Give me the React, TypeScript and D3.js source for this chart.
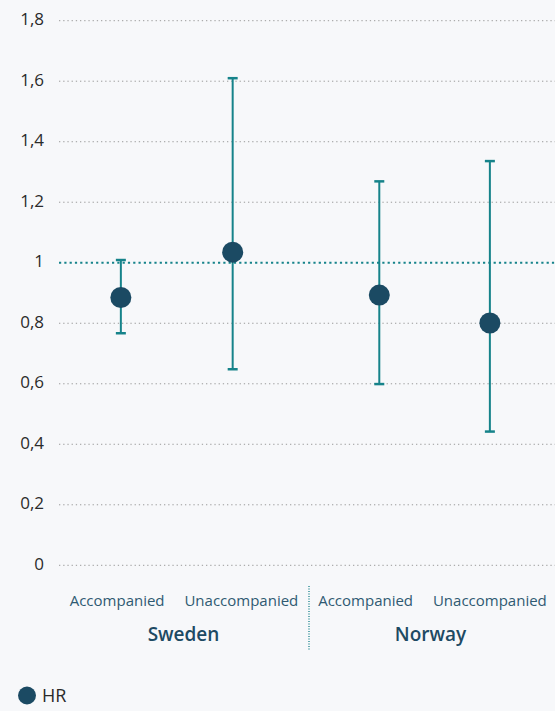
import React from "react";
import * as d3 from "d3";

const subCategories = ["Accompanied", "Unaccompanied", "Accompanied", "Unaccompanied"];
const groups = ["Sweden", "Norway"];
const pointX = [0.03, 0.93, 2.11, 3.0];
const hr = [0.885, 1.035, 0.893, 0.801];
const ciLow = [0.767, 0.648, 0.599, 0.442];
const ciHigh = [1.009, 1.61, 1.269, 1.336];
const yTicks = [0, 0.2, 0.4, 0.6, 0.8, 1, 1.2, 1.4, 1.6, 1.8];
const legendLabel = "HR";

const W = 555;
const H = 711;
const FONT = "'Open Sans', 'Noto Sans', sans-serif";
const TEAL = "#16838a";
const DOT = "#1b4a63";

export default function App() {
  const y = d3.scaleLinear().domain([0, 1.8]).range([565.3, 20.7]);
  const sub = d3.scaleBand<number>().domain(d3.range(subCategories.length)).range([55, 552]);
  const xi = d3
    .scaleLinear()
    .domain([0, subCategories.length - 1])
    .range([sub(0)! + sub.bandwidth() / 2, sub(subCategories.length - 1)! + sub.bandwidth() / 2]);
  const grp = d3.scaleBand<string>().domain(groups).range([60, 554]);
  const fmt = (v: number) => d3.format("~g")(v).replace(".", ",");
  const plotLeft = 59;
  const plotRight = 555;

  return (
    <>
      <style>{`html,body{margin:0;padding:0;background:#f7f8fa;}`}</style>
      <svg width={W} height={H} style={{ display: "block", background: "#f7f8fa", fontFamily: FONT }}>
        {yTicks.map((t) => (
          <g key={t}>
            {t !== 1 && (
              <line
                x1={plotLeft}
                x2={plotRight}
                y1={y(t)}
                y2={y(t)}
                stroke="#9a9a9a"
                strokeWidth={1}
                strokeDasharray="1.3,2.9"
              />
            )}
            <text x={44} y={y(t) + 4.5} textAnchor="end" fontSize={17} fill="#2b2b2b">
              {fmt(t)}
            </text>
          </g>
        ))}
        <line
          x1={plotLeft}
          x2={plotRight}
          y1={y(1)}
          y2={y(1)}
          stroke={TEAL}
          strokeWidth={2.2}
          strokeDasharray="2.2,3.1"
        />
        {hr.map((v, i) => {
          const cx = xi(pointX[i]);
          return (
            <g key={i}>
              <line x1={cx} x2={cx} y1={y(ciLow[i])} y2={y(ciHigh[i])} stroke={TEAL} strokeWidth={2} />
              <line x1={cx - 5} x2={cx + 5} y1={y(ciLow[i])} y2={y(ciLow[i])} stroke={TEAL} strokeWidth={2.5} />
              <line x1={cx - 5} x2={cx + 5} y1={y(ciHigh[i])} y2={y(ciHigh[i])} stroke={TEAL} strokeWidth={2.5} />
              <circle cx={cx} cy={y(v)} r={10.5} fill={DOT} />
            </g>
          );
        })}
        {subCategories.map((c, i) => (
          <text
            key={i}
            x={sub(i)! + sub.bandwidth() / 2}
            y={606}
            textAnchor="middle"
            fontSize={15}
            fill="#2f5a72"
          >
            {c}
          </text>
        ))}
        {groups.map((g) => (
          <text
            key={g}
            x={grp(g)! + grp.bandwidth() / 2}
            y={641}
            textAnchor="middle"
            fontSize={19}
            fontWeight={600}
            fill="#1d4a63"
          >
            {g}
          </text>
        ))}
        <line
          x1={309}
          x2={309}
          y1={586}
          y2={650}
          stroke={TEAL}
          strokeWidth={1.3}
          strokeDasharray="1,1.5"
        />
        <circle cx={27} cy={695.5} r={9} fill={DOT} />
        <text x={42} y={702} fontSize={18} fill="#2b2b2b">
          {legendLabel}
        </text>
      </svg>
    </>
  );
}
